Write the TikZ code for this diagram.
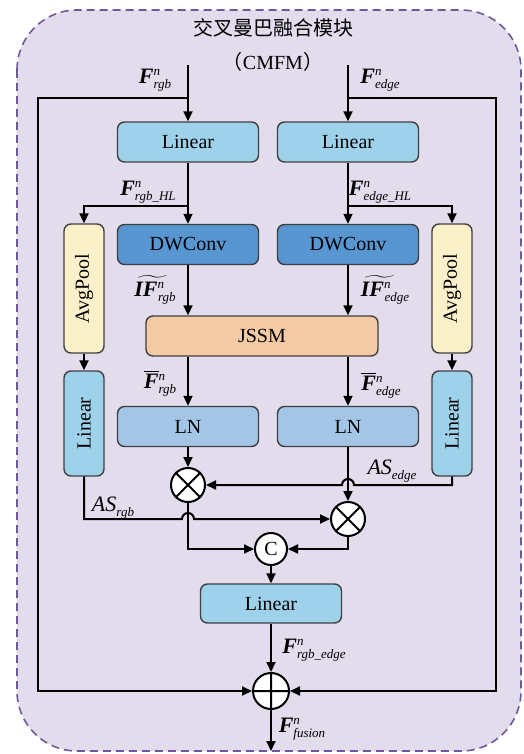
\documentclass[tikz,border=0pt]{standalone}
\usepackage{fontspec,graphicx}
\setmainfont{Liberation Serif}
\newfontfamily\cjk{Noto Sans CJK SC}
\usetikzlibrary{arrows.meta}
\definecolor{bgc}{RGB}{226,220,237}
\definecolor{bdc}{RGB}{112,88,158}
\definecolor{linc}{RGB}{158,210,234}
\definecolor{dwc}{RGB}{88,150,210}
\definecolor{lnc}{RGB}{164,198,230}
\definecolor{poolc}{RGB}{250,240,202}
\definecolor{jssmc}{RGB}{244,202,164}
\newcommand{\tsz}{\fontsize{6.5}{7}\selectfont\itshape}
\newcommand{\fsup}{\raisebox{4pt}{\tsz n}}
\newcommand{\fsub}[1]{\raisebox{-2.5pt}{\tsz #1}}
\newcommand{\fv}[2]{\textbf{\textit{#1}}\makebox[0pt][l]{\fsup}\fsub{#2}}
\newcommand{\fvb}[1]{$\overline{\hbox{\textbf{\textit{F}}}}$\makebox[0pt][l]{\fsup}\fsub{#1}}
\newcommand{\fvt}[1]{$\widetilde{\hbox{\textbf{\textit{IF}}\fsup\kern4pt}}$\kern-7pt\fsub{#1}}

\begin{document}
\begin{tikzpicture}[x=.5pt,y=-.5pt,
	arr/.style={line width=1pt,-{Triangle[length=5pt,width=4.5pt]}},
	blk/.style={draw=black!75,line width=.7pt,rounded corners=3.5pt,inner sep=0,font=\fontsize{10}{12}\selectfont},
	hbox/.style={blk,minimum width=70.5pt,minimum height=20pt},
	vbox/.style={blk,minimum width=20pt},
	op/.style={circle,draw,line width=1pt,fill=white,inner sep=0,font=\fontsize{10}{12}\selectfont},
	lab/.style={inner sep=0,font=\fontsize{11}{13}\selectfont}]
\useasboundingbox (0,0) rectangle (524,754);
\draw[draw=bdc,fill=bgc,line width=.8pt,dash pattern=on 4pt off 2.5pt,rounded corners=30pt] (17,10) rectangle (521,751);
\node[font=\cjk\fontsize{10}{12}\selectfont] (title) at (273,28) {交叉曼巴融合模块};
\node[font=\fontsize{10}{12}\selectfont] (abbr) at (273,62) {{\cjk （}CMFM{\cjk ）}};
\node[hbox,fill=linc] (linL) at (188,142) {Linear};
\node[hbox,fill=linc] (linR) at (348,142) {Linear};
\node[hbox,fill=dwc] (dwL) at (188,244.5) {DWConv};
\node[hbox,fill=dwc] (dwR) at (348,244.5) {DWConv};
\node[vbox,fill=poolc,minimum height=64.5pt] (poolL) at (84,288.5) {\rotatebox{90}{AvgPool}};
\node[vbox,fill=poolc,minimum height=64.5pt] (poolR) at (452,288.5) {\rotatebox{90}{AvgPool}};
\node[blk,fill=jssmc,minimum width=116pt,minimum height=20pt] (jssm) at (262,336) {JSSM};
\node[vbox,fill=linc,minimum height=52.5pt] (linVL) at (84,423.5) {\rotatebox{90}{Linear}};
\node[vbox,fill=linc,minimum height=52.5pt] (linVR) at (452,423.5) {\rotatebox{90}{Linear}};
\node[hbox,fill=lnc] (lnL) at (188,426.5) {LN};
\node[hbox,fill=lnc] (lnR) at (348,426.5) {LN};
\node[op,minimum size=17pt] (mulL) at (188,485) {};
\node[op,minimum size=17pt] (mulR) at (348,519) {};
\node[op,minimum size=16pt] (cat) at (271,549) {C};
\node[hbox,fill=linc,minimum height=19.5pt] (linB) at (271,603.5) {Linear};
\node[op,minimum size=18pt] (add) at (271,691) {};
\node[lab] (fRgb) at (155,80) {\fv{F}{rgb}};
\node[lab] (fEdge) at (380,80) {\fv{F}{edge}};
\node[lab] (fRgbHL) at (148,192) {\fv{F}{rgb\_HL}};
\node[lab] (fEdgeHL) at (380,192) {\fv{F}{edge\_HL}};
\node[lab] (ifRgb) at (155,290) {\fvt{rgb}};
\node[lab] (ifEdge) at (385,290) {\fvt{edge}};
\node[lab] (fbRgb) at (160,383) {\fvb{rgb}};
\node[lab] (fbEdge) at (381,385) {\fvb{edge}};
\node[lab] (asEdge) at (392,471) {\textit{AS}\fsub{edge}};
\node[lab] (asRgb) at (113,508) {\textit{AS}\fsub{rgb}};
\node[lab] (fRgbEdge) at (314,650) {\fv{F}{rgb\_edge}};
\node[lab] (fFusion) at (302,729) {\fv{F}{fusion}};
\coordinate (inL) at (188,65);
\coordinate (inR) at (348,65);
\coordinate (jL) at (188,98);
\coordinate (jR) at (348,98);
\coordinate (byL) at (38,400);
\coordinate (byR) at (496,400);
\coordinate (brL) at (188,206);
\coordinate (brR) at (348,206);
\coordinate (hopE) at (354,485);
\coordinate (hopW) at (182,519);
\coordinate (out) at (271,751);
\draw[arr] (inL) -- (linL);
\draw[arr] (inR) -- (linR);
\draw[arr] (jL) -| (byL) |- (add);
\draw[arr] (jR) -| (byR) |- (add);
\draw[arr] (linL) -- (dwL);
\draw[arr] (linR) -- (dwR);
\draw[arr] (brL) -| (poolL);
\draw[arr] (brR) -| (poolR);
\draw[arr] (dwL) -- (dwL |- jssm.north);
\draw[arr] (dwR) -- (dwR |- jssm.north);
\draw[arr] (poolL) -- (linVL);
\draw[arr] (poolR) -- (linVR);
\draw[arr] (jssm.south -| lnL) -- (lnL);
\draw[arr] (jssm.south -| lnR) -- (lnR);
\draw[arr] (lnL) -- (mulL);
\draw[arr] (lnR) -- (mulR);
\draw[arr] (linVR) |- (hopE) arc[start angle=0,end angle=180,radius=3pt] -- (mulL);
\draw[arr] (linVL) |- (hopW) arc[start angle=180,end angle=0,radius=3pt] -- (mulR);
\draw[arr] (mulL) |- (cat);
\draw[arr] (mulR) |- (cat);
\draw[arr] (cat) -- (linB);
\draw[arr] (linB) -- (add);
\draw[arr] (add) -- (out);
\draw[line width=1pt]
	(mulL.north west)--(mulL.south east) (mulL.north east)--(mulL.south west)
	(mulR.north west)--(mulR.south east) (mulR.north east)--(mulR.south west)
	(add.north)--(add.south) (add.west)--(add.east);
\end{tikzpicture}
\end{document}
